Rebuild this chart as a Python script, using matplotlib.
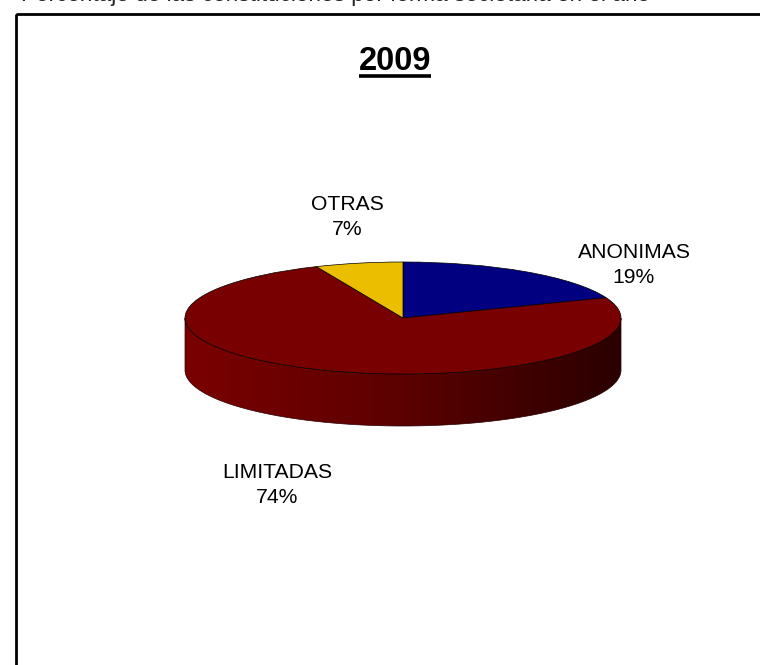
import matplotlib
matplotlib.use('Agg')
import matplotlib.pyplot as plt
import numpy as np
from matplotlib.colors import LinearSegmentedColormap
from matplotlib.patches import Polygon, Rectangle

plt.rcParams['font.family'] = ['Liberation Sans', 'DejaVu Sans']

W, H = 760, 665

# slices, clockwise from 12 o'clock
labels = ['ANONIMAS', 'LIMITADAS', 'OTRAS']
values = [19.1, 74.4, 6.5]
shown = ['19%', '74%', '7%']
colors = ['#000080', '#780000', '#ECBE00']
side_colors = ['#7A0000', '#5C0000', '#2A0000']
header = 'Porcentaje de las constituciones por forma societaria en el año'
title = '2009'

fig = plt.figure(figsize=(W / 100, H / 100), dpi=100, facecolor='white')


def px_axes(left, top, right, bottom):
    return fig.add_axes([left / W, 1 - bottom / H, (right - left) / W, (bottom - top) / H])


# frame and texts, in pixel coordinates
bg = fig.add_axes([0, 0, 1, 1])
bg.set_xlim(0, W)
bg.set_ylim(H, 0)
bg.axis('off')
bg.add_patch(Rectangle((16, 14), 800, 800, fill=False, ec='black', lw=2))
bg.text(21, -4.5, header, fontsize=16.2, color='#222222', va='center', ha='left')
bg.text(395, 62, title, fontsize=23.5, fontweight='bold', ha='center', va='center')
bg.plot([359, 431], [76, 76], color='black', lw=2.6, solid_capstyle='butt')
bg.text(634, 265, labels[0] + '\n' + shown[0], fontsize=15.2, ha='center', va='center', linespacing=1.38)
bg.text(277, 485, labels[1] + '\n' + shown[1], fontsize=15.2, ha='center', va='center', linespacing=1.38)
bg.text(347, 217, labels[2] + '\n' + shown[2], fontsize=15.2, ha='center', va='center', linespacing=1.38)

# pie, squashed by the axes: 1 unit is 218 px wide and 56 px high
rx, ry = 218, 56
cx, cy = 403, 318
depth = 52 / ry
ax = px_axes(cx - 1.05 * rx, cy - 1.1 * ry, cx + 1.05 * rx, cy + 1.1 * ry + 52)
ax.patch.set_alpha(0)

th = np.linspace(np.pi, 2 * np.pi, 200)
xs = np.cos(th)
ys = np.sin(th)
outline = np.column_stack([np.r_[xs, xs[::-1]], np.r_[ys, ys[::-1] - depth]])
side = Polygon(outline, closed=True, fc='none', ec='#2A0000', lw=0.5, zorder=1)
ax.add_patch(side)
cmap = LinearSegmentedColormap.from_list('side', side_colors)
img = ax.imshow(np.linspace(0, 1, 256)[None, :], cmap=cmap, extent=[-1, 1, -1 - depth, 0],
                aspect='auto', zorder=0.9)
img.set_clip_path(side)

ax.pie(values, colors=colors, startangle=90, counterclock=False, radius=1,
       wedgeprops={'edgecolor': 'black', 'linewidth': 0.5, 'zorder': 2})
ax.set_aspect('auto')
ax.set_xlim(-1.05, 1.05)
ax.set_ylim(-1.1 - depth, 1.1)

fig.savefig('out.png', dpi=100)
